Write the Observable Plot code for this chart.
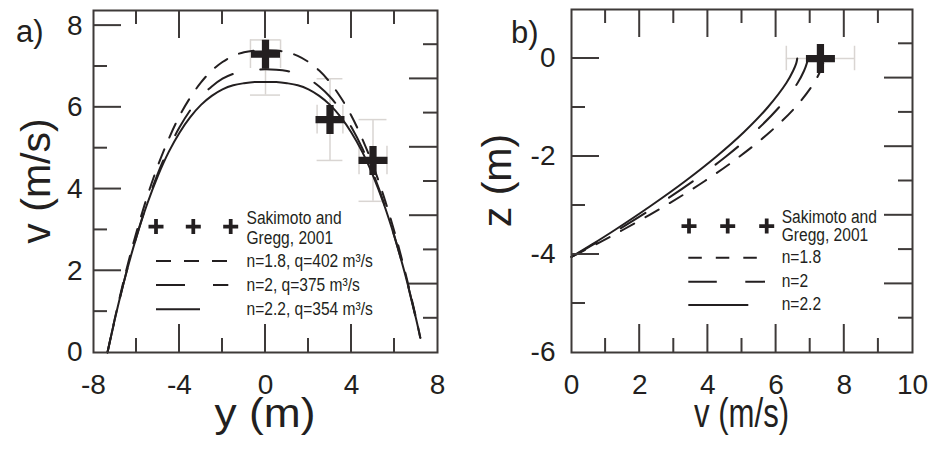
<!DOCTYPE html>
<html><head><meta charset="utf-8">
<script src="https://cdn.jsdelivr.net/npm/d3@7"></script>
<script src="https://cdn.jsdelivr.net/npm/@observablehq/plot@0.6"></script>
<style>
html,body{margin:0;padding:0;background:#fff;}
#wrap{display:flex;width:931px;height:450px;overflow:hidden;}
#wrap svg{display:block;}
</style></head><body><div id="wrap"></div>
<script>
// ---------- Panel a: lateral velocity profile v(y) ----------
const yA   = [-7.35,-7,-6.5,-6,-5.5,-5,-4.5,-4,-3.5,-3,-2.5,-2,-1.5,-1,-0.5,0,0.5,1,1.5,2,2.5,3,3.5,4,4.5,5,5.5,6,6.5,7,7.2];
const vA18 = [0,0.85,1.96,2.95,3.82,4.58,5.23,5.79,6.24,6.61,6.90,7.11,7.26,7.35,7.39,7.40,7.39,7.35,7.26,7.11,6.90,6.61,6.24,5.79,5.23,4.58,3.82,2.95,1.96,0.85,0.36];
const vA20 = [0,0.82,1.90,2.84,3.67,4.39,5.00,5.51,5.93,6.26,6.51,6.70,6.82,6.89,6.92,6.93,6.92,6.89,6.82,6.70,6.51,6.26,5.93,5.51,5.00,4.39,3.67,2.84,1.90,0.82,0.35];
const vA22 = [0,0.83,1.90,2.83,3.64,4.33,4.91,5.38,5.76,6.06,6.28,6.44,6.54,6.59,6.62,6.62,6.62,6.59,6.54,6.44,6.28,6.06,5.76,5.38,4.91,4.33,3.64,2.83,1.90,0.83,0.36];
// Sakimoto and Gregg (2001) observations, panel a
const obsAy   = [0, 3, 5];
const obsAv   = [7.3, 5.7, 4.7];
const obsAvLo = [6.3, 4.7, 3.7];
const obsAvHi = [7.65, 6.7, 5.7];
const obsAyLo = [-0.7, 2.4, 4.35];
const obsAyHi = [0.7, 3.6, 5.65];

// ---------- Panel b: vertical velocity profile z(v) ----------
const zB   = [-4.05,-3.8,-3.5,-3.0,-2.5,-2.0,-1.5,-1.0,-0.5,-0.25,-0.1,0];
const vB18 = [0,0.70,1.50,2.76,3.91,4.93,5.82,6.56,7.11,7.30,7.38,7.40];
const vB20 = [0,0.63,1.36,2.51,3.57,4.53,5.37,6.08,6.63,6.82,6.90,6.93];
const vB22 = [0,0.59,1.27,2.34,3.34,4.25,5.06,5.75,6.30,6.50,6.59,6.62];
const obsBv = [7.3], obsBz = [0], obsBvLo = [6.3], obsBvHi = [8.3];

// tick values / labels
const xTickLabelsA = [-8,-4,0,4,8];
const yTickLabelsA = [0,2,4,6,8];
const xTickLabelsB = [0,2,4,6,8,10];
const yTickLabelsB = [-6,-4,-2,0];

// texts
const legendA = ["n=1.8, q=402 m\u00B3/s","n=2, q=375 m\u00B3/s","n=2.2, q=354 m\u00B3/s"];
const legendB = ["n=1.8","n=2","n=2.2"];
const srcText = ["Sakimoto and","Gregg, 2001"];
const dashes = ["15,13","29,28",null];

const ink = "#231f20", frameCol = "#3e3a39", errCol = "#d9d5d2";
const FONT = "'Liberation Sans', Arial, Helvetica, sans-serif";

const plusSymbol = {
  draw(c, size) {
    const L = Math.sqrt(size / Math.PI), t = L * 0.25;
    c.moveTo(-L,-t); c.lineTo(-t,-t); c.lineTo(-t,-L); c.lineTo(t,-L);
    c.lineTo(t,-t); c.lineTo(L,-t); c.lineTo(L,t); c.lineTo(t,t);
    c.lineTo(t,L); c.lineTo(-t,L); c.lineTo(-t,t); c.lineTo(-L,t); c.closePath();
  }
};

// inward ticks on all four sides, placed through the plot's own scales
function drawTicks(svg, spec) {
  const LONG = 28, SHORT = 14;
  const sx = svg.scale("x"), sy = svg.scale("y");
  const xl = Math.min(...sx.range), xr = Math.max(...sx.range);
  const yb = Math.max(...sy.range), yt = Math.min(...sy.range);
  const g = d3.select(svg).append("g").attr("stroke", frameCol).attr("stroke-width", 2);
  const seg = (x1, y1, x2, y2) => g.append("line").attr("x1", x1).attr("y1", y1).attr("x2", x2).attr("y2", y2);
  for (const [vals, len] of [[spec.x.long, LONG], [spec.x.short, SHORT]])
    vals.forEach(v => { const X = sx.apply(v); seg(X, yb, X, yb - len); seg(X, yt, X, yt + len); });
  for (const [vals, len] of [[spec.left.long, LONG], [spec.left.short, SHORT]])
    vals.forEach(v => { const Y = sy.apply(v); seg(xl, Y, xl + len, Y); });
  for (const [vals, len] of [[spec.right.long, LONG], [spec.right.short, SHORT]])
    vals.forEach(v => { const Y = sy.apply(v); seg(xr, Y, xr - len, Y); });
}

function addText(g, t, x, y, size, sx = 1, rot = 0, anchor = "start") {
  return g.append("text")
    .attr("transform", `translate(${x},${y}) rotate(${rot}) scale(${sx},1)`)
    .attr("font-size", size).attr("text-anchor", anchor).text(t);
}

function addLegend(svg, L) {
  const g = d3.select(svg).append("g").attr("font-family", FONT).attr("fill", ink).attr("text-anchor", "start");
  L.plusX.forEach(x => g.append("path")
    .attr("d", d3.symbol(plusSymbol, Math.PI * 7.5 * 7.5)())
    .attr("transform", `translate(${x},${L.plusY})`));
  L.src.forEach((t, i) => addText(g, t, L.textX, L.srcBase[i], 19, 0.82));
  L.entries.forEach((t, i) => {
    g.append("line").attr("x1", L.lineX0).attr("x2", L.lineX1[i])
      .attr("y1", L.lineY[i]).attr("y2", L.lineY[i])
      .attr("stroke", ink).attr("stroke-width", 2)
      .attr("stroke-dasharray", L.dash[i]);
    addText(g, t, L.textX, L.entryBase[i], 19, 0.82);
  });
  addText(g, L.tag[0], L.tag[1], L.tag[2], 31);
  // axis titles
  const sxs = svg.scale("x"), sys = svg.scale("y");
  const cx = (sxs.range[0] + sxs.range[1]) / 2, cy = (sys.range[0] + sys.range[1]) / 2;
  addText(g, L.xTitle, cx, L.xTitleBase, 41, L.xTitleScale, 0, "middle");
  addText(g, L.yTitle, L.yTitleBase, cy, 41, 1, -90, "middle");
}

// ---------- build panel a ----------
const curvesA = [vA18, vA20, vA22].map(vs => yA.map((y, i) => ({y, v: vs[i]})));
const obsA = obsAy.map((y, i) => ({y, v: obsAv[i], vLo: obsAvLo[i], vHi: obsAvHi[i], yLo: obsAyLo[i], yHi: obsAyHi[i]}));
const yMaxA = 8.37;
const rightA = d3.range(1, 10).map(k => k * yMaxA / 10);
const errA = {stroke: errCol, strokeWidth: 1.5};

const plotA = Plot.plot({
  width: 465, height: 450,
  marginLeft: 93, marginRight: 28, marginTop: 10, marginBottom: 98,
  x: {domain: [-8, 8]},
  y: {domain: [0, yMaxA]},
  style: {fontFamily: FONT, color: ink, background: "#fff"},
  marks: [
    Plot.ruleX(obsA, {x: "y", y1: "vLo", y2: "vHi", ...errA}),
    Plot.ruleY(obsA, {y: "vLo", x1: "yLo", x2: "yHi", ...errA}),
    Plot.ruleY(obsA, {y: "vHi", x1: "yLo", x2: "yHi", ...errA}),
    Plot.ruleY(obsA, {y: "v", x1: "yLo", x2: "yHi", ...errA}),
    Plot.ruleX(obsA, {x: "yLo", y1: d => d.v - 0.35, y2: d => d.v + 0.35, ...errA}),
    Plot.ruleX(obsA, {x: "yHi", y1: d => d.v - 0.35, y2: d => d.v + 0.35, ...errA}),
    ...curvesA.map((c, i) => Plot.line(c, {x: "y", y: "v", stroke: ink, strokeWidth: 2, strokeDasharray: dashes[i], curve: "catmull-rom"})),
    Plot.dot(obsA, {x: "y", y: "v", symbol: plusSymbol, r: 14.5, fill: ink, stroke: null}),
    Plot.frame({stroke: frameCol, strokeWidth: 2}),
    Plot.axisX({ticks: xTickLabelsA, tickSize: 0, tickPadding: 22, fontSize: 28, label: null, tickFormat: d => String(d)}),
    Plot.axisY({ticks: yTickLabelsA, tickSize: 0, tickPadding: 11, fontSize: 28, label: null, tickFormat: d => String(d)})
  ]
});
drawTicks(plotA, {
  x: {long: [-4, 0, 4], short: [-6, -2, 2, 6]},
  left: {long: [2, 4, 6, 8], short: [1, 3, 5, 7]},
  right: {long: rightA.filter((d, i) => i % 2 === 1), short: rightA.filter((d, i) => i % 2 === 0)}
});
addLegend(plotA, {
  plusX: [156, 193.3, 230.7], plusY: 226.5, textX: 246.5, srcBase: [224, 243.5],
  entries: legendA, lineX0: 156, lineX1: [228.3, 228.3, 200], lineY: [261, 285, 309.3],
  entryBase: [266.5, 290.5, 314.5], dash: dashes, src: srcText, tag: ["a)", 16, 42],
  xTitle: "y (m)", xTitleBase: 427, xTitleScale: 1.08, yTitle: "v (m/s)", yTitleBase: 50
});

// ---------- build panel b ----------
const curvesB = [vB18, vB20, vB22].map(vs => zB.map((z, i) => ({z, v: vs[i]})));
const obsB = obsBv.map((v, i) => ({v, z: obsBz[i], vLo: obsBvLo[i], vHi: obsBvHi[i]}));
const rightB = d3.range(1, 10).map(k => -6 + k * 7 / 10);
const plotB = Plot.plot({
  width: 466, height: 450,
  marginLeft: 106, marginRight: 19, marginTop: 9, marginBottom: 98,
  x: {domain: [0, 10]},
  y: {domain: [-6, 1]},
  style: {fontFamily: FONT, color: ink, background: "#fff"},
  marks: [
    Plot.ruleY(obsB, {y: "z", x1: "vLo", x2: "vHi", ...errA}),
    Plot.ruleX(obsB, {x: "vLo", y1: d => d.z - 0.25, y2: d => d.z + 0.25, ...errA}),
    Plot.ruleX(obsB, {x: "vHi", y1: d => d.z - 0.25, y2: d => d.z + 0.25, ...errA}),
    ...curvesB.map((c, i) => Plot.line(c, {x: "v", y: "z", stroke: ink, strokeWidth: 2, strokeDasharray: dashes[i], curve: "catmull-rom"})),
    Plot.dot(obsB, {x: "v", y: "z", symbol: plusSymbol, r: 14.5, fill: ink, stroke: null}),
    Plot.frame({stroke: frameCol, strokeWidth: 2}),
    Plot.axisX({ticks: xTickLabelsB, tickSize: 0, tickPadding: 22, fontSize: 28, label: null, tickFormat: d => String(d)}),
    Plot.axisY({ticks: yTickLabelsB, tickSize: 0, tickPadding: 16, fontSize: 28, label: null, tickFormat: d => String(d)})
  ]
});
drawTicks(plotB, {
  x: {long: [2, 4, 6, 8], short: [1, 3, 5, 7, 9]},
  left: {long: [-4, -2, 0], short: [-5, -3, -1]},
  right: {long: rightB.filter((d, i) => i % 2 === 1), short: rightB.filter((d, i) => i % 2 === 0)}
});
addLegend(plotB, {
  plusX: [224, 262.7, 301.7], plusY: 226, textX: 316.7, srcBase: [222.5, 241],
  entries: legendB, lineX0: 223.3, lineX1: [292, 300, 283.3], lineY: [257.7, 281.7, 305],
  entryBase: [263, 287, 310], dash: ["13.5,14","28.5,28.5",null], src: srcText, tag: ["b)", 46, 43],
  xTitle: "v (m/s)", xTitleBase: 427, xTitleScale: 0.76, yTitle: "z (m)", yTitleBase: 46
});

document.getElementById("wrap").append(plotA, plotB);
</script></body></html>
